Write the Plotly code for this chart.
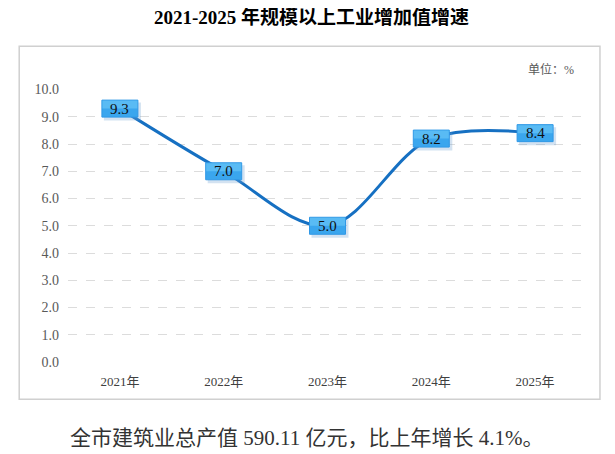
import plotly.graph_objects as go

years = ["2021年", "2022年", "2023年", "2024年", "2025年"]
growth = [9.3, 7.0, 5.0, 8.2, 8.4]
y_ticks = [0, 1, 2, 3, 4, 5, 6, 7, 8, 9, 10]

FONT = "Liberation Serif, Noto Sans CJK SC, serif"

fig = go.Figure()

fig.add_trace(
    go.Scatter(
        x=years,
        y=growth,
        mode="lines",
        line=dict(color="#1670c2", width=3, shape="spline", smoothing=1.0),
        hoverinfo="skip",
    )
)

# value labels: soft shadow, blue box with lighter top, then the number
for i, v in enumerate(growth):
    common = dict(type="rect", xref="x", yref="y", xsizemode="pixel",
                  ysizemode="pixel", xanchor=i, yanchor=v)
    fig.add_shape(**common, x0=-16, x1=21, y0=-12, y1=6,
                  fillcolor="rgba(110,160,210,0.30)", line_width=0)
    fig.add_shape(**common, x0=-18, x1=18, y0=-8.5, y1=8.5,
                  fillcolor="#3aa6ee", line=dict(color="#3098e6", width=1))
    fig.add_shape(**common, x0=-17.5, x1=17.5, y0=0, y1=8,
                  fillcolor="#66c4f6", line_width=0, opacity=0.7)
    fig.add_annotation(
        x=years[i], y=v, text=f"{v:.1f}", showarrow=False,
        font=dict(family=FONT, size=15, color="#111111"),
    )

fig.add_shape(
    type="rect", xref="paper", yref="paper",
    x0=-0.094, x1=1.025, y0=-0.136, y1=1.157,
    line=dict(color="#d0d0d0", width=1.5), layer="below",
)

fig.add_annotation(
    xref="paper", yref="paper", x=0.93, y=1.073, text="单位：%",
    xanchor="center", yanchor="middle",
    showarrow=False, font=dict(family=FONT, size=12, color="#595959"),
)

fig.add_annotation(
    xref="paper", yref="paper", x=0.46, y=-0.278,
    xanchor="center", yanchor="middle",
    text="全市建筑业总产值 590.11 亿元，比上年增长 4.1%。",
    showarrow=False, font=dict(family=FONT, size=21, color="#333333"),
)

# the page body adds an 8px margin, so the figure is sized to fit in the rest
fig.update_layout(
    width=607,
    height=446,
    margin=dict(l=60, r=28, t=81, b=92),
    paper_bgcolor="white",
    plot_bgcolor="white",
    showlegend=False,
    title=dict(
        text="<b>2021-2025 年规模以上工业增加值增速</b>",
        x=0.5, xanchor="center", y=0.978, yanchor="middle",
        font=dict(family=FONT, size=19, color="#000000"),
    ),
)

fig.update_xaxes(
    showgrid=False, showline=False, zeroline=False, ticks="",
    tickfont=dict(family=FONT, size=13, color="#404040"),
    range=[-0.5, 4.5], ticklabelstandoff=10,
)
fig.update_yaxes(
    range=[0, 10.02], tickvals=y_ticks, tickformat=".1f",
    showgrid=True, gridcolor="#dcdcdc", griddash="dash", gridwidth=1,
    zeroline=False, showline=False, ticks="", ticklabelstandoff=8,
    tickfont=dict(family=FONT, size=14, color="#595959"),
)

fig.write_html("out.html")
